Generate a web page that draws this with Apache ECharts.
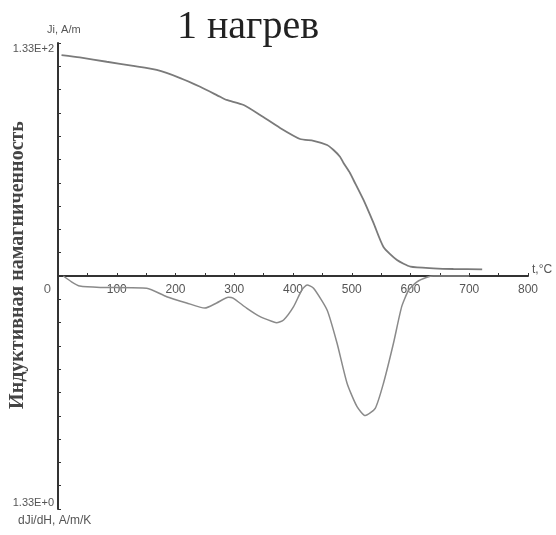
<!DOCTYPE html>
<html><head><meta charset="utf-8">
<script src="https://cdn.jsdelivr.net/npm/echarts@6/dist/echarts.min.js"></script>
<style>html,body{margin:0;padding:0;background:#fff}#c{width:556px;height:535px}</style>
</head><body><div id="c"></div>
<script>
// Ji (A/m) vs temperature
const jiT = [6,37,83,128,168,208,242,276,287,316,344,378,412,435,458,469,480,486,497,503,520,537,554,577,600,639,673,722];
const jiV = [126.1,124.8,122.3,119.9,117.6,113,108,102.3,100.5,97.6,91.9,84.5,78.2,77.2,74.8,71.9,68.1,64.5,58.8,54.8,43.4,30.3,16.6,9.1,5.3,4.4,4.0,3.8];
// dJi/dH (A/m/K) vs temperature
const dT = [9,23,37,72,151,185,219,250,270,290,298,321,344,366,372,384,401,415,424,435,458,475,492,509,523,540,554,571,585,597,611,628,639,700];
const dV = [0,-0.033,-0.057,-0.065,-0.070,-0.118,-0.154,-0.183,-0.154,-0.122,-0.126,-0.183,-0.232,-0.261,-0.267,-0.251,-0.175,-0.080,-0.051,-0.070,-0.194,-0.384,-0.612,-0.746,-0.797,-0.755,-0.612,-0.384,-0.175,-0.080,-0.033,-0.007,0,0];
const xTicks = [100,200,300,400,500,600,700,800];
const jiMax = 133, dMax = 1.33;

const W = 556, H = 535, gTop = 43, gBottom = 26;
const halfH = (H - gTop - gBottom) / 2;
const chart = echarts.init(document.getElementById('c'));
chart.setOption({
  animation:false,
  backgroundColor:'#fff',
  grid:{left:58,right:28,top:gTop,bottom:gBottom,containLabel:false},
  xAxis:{type:'value',min:0,max:800,interval:50,position:'bottom',offset:-halfH,
    axisLine:{onZero:false,lineStyle:{color:'#333',width:2}},
    axisTick:{inside:true,length:3,lineStyle:{color:'#333',width:1}},
    splitLine:{show:false},
    axisLabel:{margin:8,fontFamily:'Liberation Sans, Arial',fontSize:12,color:'#555',
      formatter:v=>xTicks.includes(v)?String(v):''},
    name:'t,°C',nameLocation:'end',nameGap:4,
    nameTextStyle:{fontFamily:'Liberation Sans, Arial',fontSize:12,color:'#555',verticalAlign:'bottom'}
  },
  yAxis:[
    {type:'value',min:-jiMax,max:jiMax,interval:jiMax/10,
      axisLine:{show:true,onZero:false,lineStyle:{color:'#333',width:2}},
      axisTick:{show:true,inside:true,length:3,lineStyle:{color:'#333',width:1}},
      splitLine:{show:false},
      axisLabel:{show:true,margin:4,showMinLabel:true,showMaxLabel:true,
        formatter:v=>{ if(Math.abs(v-jiMax)<1e-6) return '{t|1.33E+2}'; if(Math.abs(v)<1e-6) return '{z|0}'; return ''; },
        rich:{t:{fontFamily:'Liberation Sans, Arial',fontSize:11,color:'#555',padding:[12,0,0,0]},
              z:{fontFamily:'Liberation Sans, Arial',fontSize:13,color:'#666',padding:[26,3,0,0]}}}
    },
    {type:'value',min:-dMax,max:dMax,interval:dMax/10,position:'left',offset:0,
      axisLine:{show:false},axisTick:{show:false},splitLine:{show:false},
      axisLabel:{show:true,margin:4,showMinLabel:true,showMaxLabel:false,
        formatter:v=>Math.abs(v+dMax)<1e-6?'{b|1.33E+0}':'',
        rich:{b:{fontFamily:'Liberation Sans, Arial',fontSize:11,color:'#555',padding:[0,0,12,0]}}}
    }
  ],
  series:[
    {type:'line',yAxisIndex:0,data:jiT.map((t,i)=>[t,jiV[i]]),showSymbol:false,smooth:0.2,
      lineStyle:{color:'#7a7a7a',width:1.8}},
    {type:'line',yAxisIndex:1,data:dT.map((t,i)=>[t,dV[i]]),showSymbol:false,smooth:0.2,
      lineStyle:{color:'#8a8a8a',width:1.5}}
  ],
  graphic:[
    {type:'text',x:248,y:27,style:{text:'1 нагрев',font:'40px "Liberation Serif", "DejaVu Serif", serif',fill:'#222',align:'center',verticalAlign:'middle'}},
    {type:'text',x:47,y:24,style:{text:'Ji, A/m',font:'11px "Liberation Sans", Arial',fill:'#555'}},
    {type:'text',x:18,y:515,style:{text:'dJi/dH, A/m/K',font:'12px "Liberation Sans", Arial',fill:'#555'}},
    {type:'text',x:18,y:265,rotation:Math.PI/2,
      style:{text:'Индуктивная намагниченность',font:'bold 20px "Liberation Serif", "DejaVu Serif", serif',fill:'#444',align:'center',verticalAlign:'middle'}}
  ]
});
</script></body></html>
